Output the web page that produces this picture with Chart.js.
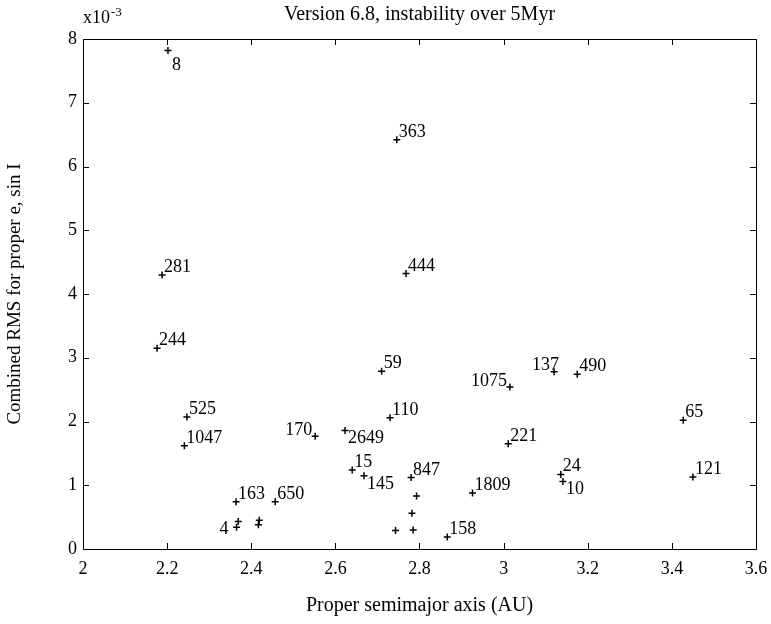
<!DOCTYPE html>
<html>
<head>
<meta charset="utf-8">
<script src="https://cdn.jsdelivr.net/npm/chart.js@4.4.0/dist/chart.umd.min.js"></script>
<style>
  html, body { margin: 0; padding: 0; background: #fff; }
  #wrap { width: 771px; height: 624px; }
</style>
</head>
<body>
<div id="wrap"><canvas id="graf1"></canvas></div>
<script>
// proper semimajor axis (AU)
var semimajor = [2.202, 2.746, 2.188, 2.768, 2.176, 2.710, 3.120, 3.175, 3.015, 2.247,
                 2.730, 3.427, 2.623, 2.552, 3.011, 2.241, 2.640, 3.136, 2.668, 3.450,
                 2.780, 3.141, 2.926, 2.793, 2.364, 2.457, 2.782, 2.419, 2.369, 2.417,
                 2.365, 2.785, 2.743, 2.866];
// combined RMS, in units of 1e-3
var rms = [7.82, 6.42, 4.30, 4.32, 3.15, 2.79, 2.78, 2.74, 2.54, 2.07,
           2.06, 2.02, 1.86, 1.77, 1.65, 1.62, 1.24, 1.17, 1.15, 1.13,
           1.12, 1.06, 0.88, 0.83, 0.74, 0.74, 0.56, 0.45, 0.43, 0.38,
           0.34, 0.30, 0.29, 0.19];
var names = ['8', '363', '281', '444', '244', '59', '137', '490', '1075', '525',
             '110', '65', '2649', '170', '221', '1047', '15', '24', '145', '121',
             '847', '10', '1809', '', '163', '650', '', '', '', '',
             '4', '', '', '158'];
// where each name sits next to its mark
var namePlace = ['s', 'ne', 'ne', 'ne', 'ne', 'ne', 'n', 'ne', 'nw', 'ne',
                 'ne', 'ne', 'se', 'nw', 'ne', 'ne', 'ne', 'ne', 'se', 'ne',
                 'ne', 'se', 'ne', '', 'ne', 'ne', '', '', '', '',
                 'w', '', '', 'ne'];

var xTicks = [2, 2.2, 2.4, 2.6, 2.8, 3, 3.2, 3.4, 3.6];
var yTicks = [0, 1, 2, 3, 4, 5, 6, 7, 8];

var serif = "'Liberation Serif', 'Times New Roman', serif";

var points = semimajor.map(function(a, i) {
  return { x: a, y: rms[i] };
});

var matlabBox = {
  id: 'matlabBox',
  afterDraw: function(chart) {
    var ctx = chart.ctx;
    var area = chart.chartArea;
    var xs = chart.scales.x, ys = chart.scales.y;
    ctx.save();
    ctx.strokeStyle = '#000';
    ctx.lineWidth = 1;
    ctx.beginPath();
    ctx.moveTo(area.left, area.top + 0.5);
    ctx.lineTo(area.right + 0.5, area.top + 0.5);
    ctx.lineTo(area.right + 0.5, area.bottom);
    xTicks.forEach(function(v) {
      var px = Math.round(xs.getPixelForValue(v)) + 0.5;
      ctx.moveTo(px, area.bottom);
      ctx.lineTo(px, area.bottom - 6);
      ctx.moveTo(px, area.top);
      ctx.lineTo(px, area.top + 6);
    });
    yTicks.forEach(function(v) {
      var py = Math.round(ys.getPixelForValue(v)) + 0.5;
      ctx.moveTo(area.left, py);
      ctx.lineTo(area.left + 6, py);
      ctx.moveTo(area.right, py);
      ctx.lineTo(area.right - 6, py);
    });
    ctx.stroke();

    // exponent note
    ctx.fillStyle = '#000';
    ctx.textAlign = 'left';
    ctx.textBaseline = 'alphabetic';
    ctx.font = '18px ' + serif;
    ctx.fillText('x10', 83, 23);
    var w = ctx.measureText('x10').width;
    ctx.font = '13px ' + serif;
    ctx.fillText('-3', 83 + w + 1, 16);

    // point names
    ctx.font = '18px ' + serif;
    var meta = chart.getDatasetMeta(0);
    meta.data.forEach(function(el, i) {
      var t = names[i];
      if (!t) return;
      var px = el.x, py = el.y;
      switch (namePlace[i]) {
        case 'ne': ctx.textAlign = 'left'; ctx.fillText(t, px + 2, py - 3); break;
        case 'se': ctx.textAlign = 'left'; ctx.fillText(t, px + 3, py + 13); break;
        case 's': ctx.textAlign = 'left'; ctx.fillText(t, px + 4, py + 20); break;
        case 'nw': ctx.textAlign = 'right'; ctx.fillText(t, px - 3, py - 1); break;
        case 'n': ctx.textAlign = 'right'; ctx.fillText(t, px + 5, py - 2); break;
        case 'w': ctx.textAlign = 'right'; ctx.fillText(t, px - 8, py + 7); break;
      }
    });
    ctx.restore();
  }
};

var g1 = document.getElementById('graf1');

var chart = new Chart(g1, {
  type: 'scatter',
  data: {
    datasets: [{
      data: points,
      pointStyle: 'cross',
      pointRadius: 3.5,
      pointBorderWidth: 1.5,
      borderColor: '#000',
      backgroundColor: '#000'
    }]
  },
  options: {
    responsive: true,
    maintainAspectRatio: false,
    animation: false,
    layout: { padding: { left: 0, right: 15, top: 0, bottom: 0 } },
    plugins: {
      legend: { display: false },
      tooltip: { enabled: false },
      title: {
        display: true,
        text: 'Version 6.8, instability over 5Myr',
        fullSize: false,
        color: '#000',
        font: { family: serif, size: 20, weight: 'normal' },
        padding: { top: 3, bottom: 12 }
      }
    },
    scales: {
      x: {
        type: 'linear',
        min: 2,
        max: 3.6,
        afterBuildTicks: function(scale) {
          scale.ticks = xTicks.map(function(v) { return { value: v }; });
        },
        afterFit: function(scale) {
          scale.height = 75;
          scale.paddingLeft = 0;
          scale.paddingRight = 0;
        },
        grid: { drawOnChartArea: false, drawTicks: false },
        border: { display: true, color: '#000', width: 1 },
        ticks: {
          color: '#000',
          padding: 9,
          maxRotation: 0,
          font: { family: serif, size: 18 },
          callback: function(v) { return String(v); }
        },
        title: {
          display: true,
          text: 'Proper semimajor axis (AU)',
          color: '#000',
          font: { family: serif, size: 20 },
          padding: { top: 0, bottom: 6 }
        }
      },
      y: {
        type: 'linear',
        min: 0,
        max: 8,
        afterBuildTicks: function(scale) {
          scale.ticks = yTicks.map(function(v) { return { value: v }; });
        },
        afterFit: function(scale) {
          scale.width = 83;
          scale.paddingTop = 0;
          scale.paddingBottom = 0;
        },
        grid: { drawOnChartArea: false, drawTicks: false },
        border: { display: true, color: '#000', width: 1 },
        ticks: {
          color: '#000',
          padding: 6,
          font: { family: serif, size: 18 }
        },
        title: {
          display: true,
          text: 'Combined RMS for proper e, sin I',
          color: '#000',
          font: { family: serif, size: 19 },
          padding: { top: 4, bottom: 0 }
        }
      }
    }
  },
  plugins: [matlabBox]
});
</script>
</body>
</html>
